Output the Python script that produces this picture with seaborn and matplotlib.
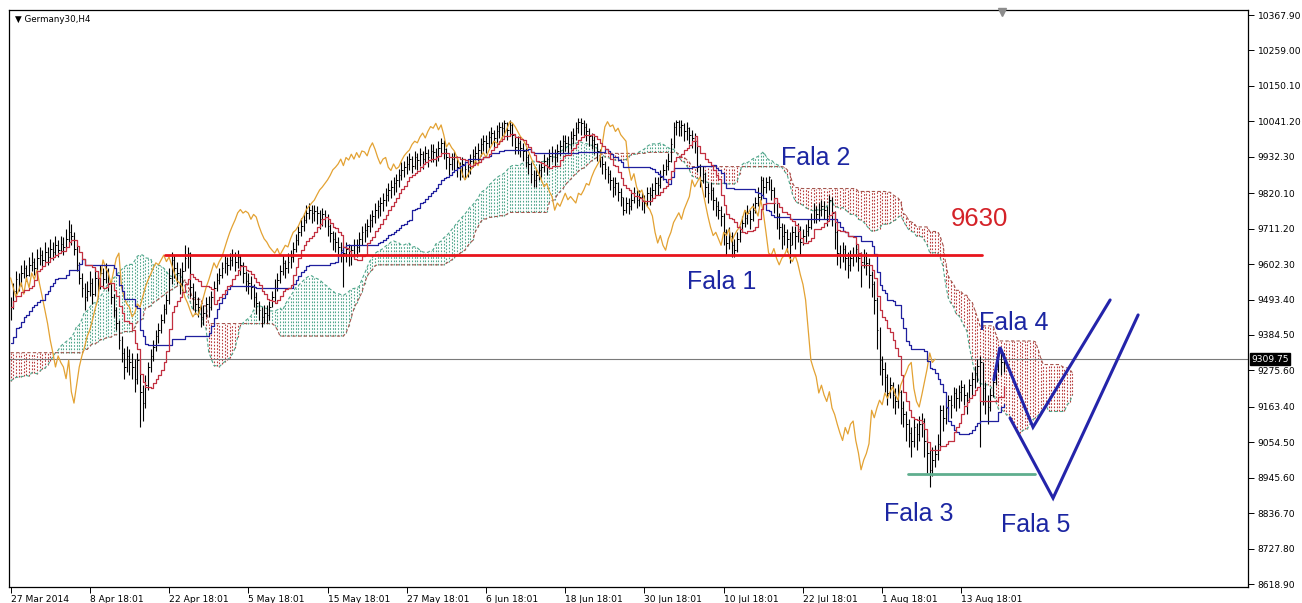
import numpy as np
import pandas as pd
import matplotlib
matplotlib.use("Agg")
import matplotlib.pyplot as plt
import matplotlib.transforms as mtransforms
import seaborn as sns

# ---------------- data ----------------
symbol_title = "Germany30,H4"

# bars before the visible window (needed by the Ichimoku cloud), 52 H4 bars
pre_high = [9550, 9560, 9545, 9555, 9540, 9530, 9520, 9500, 9470, 9440,
            9410, 9380, 9350, 9320, 9290, 9260, 9230, 9210, 9190, 9170,
            9160, 9150, 9150, 9160, 9170, 9180, 9210, 9240, 9260, 9280,
            9290, 9300, 9320, 9330, 9340, 9360, 9370, 9380, 9390, 9380,
            9400, 9420, 9440, 9460, 9470, 9490, 9500, 9510, 9500, 9510,
            9520, 9500]
pre_low = [9490, 9500, 9490, 9495, 9480, 9470, 9455, 9440, 9410, 9380,
           9350, 9320, 9290, 9260, 9230, 9200, 9170, 9150, 9130, 9110,
           9100, 9100, 9105, 9110, 9120, 9130, 9194, 9200, 9210, 9230,
           9240, 9250, 9265, 9275, 9290, 9300, 9310, 9320, 9330, 9330,
           9350, 9370, 9390, 9410, 9420, 9440, 9450, 9460, 9440, 9450,
           9460, 9440]

highs = [
    9500, 9545, 9580, 9575, 9600, 9615, 9600, 9625, 9640, 9620,
    9650, 9655, 9645, 9670, 9655, 9680, 9670, 9690, 9675, 9690,
    9685, 9710, 9738, 9725, 9700, 9660, 9610, 9575, 9545, 9550,
    9580, 9560, 9590, 9570, 9600, 9590, 9606, 9590, 9550, 9510,
    9470, 9430, 9380, 9345, 9350, 9340, 9330, 9310, 9330, 9310,
    9230, 9260, 9300, 9340, 9370, 9400, 9420, 9450, 9480, 9510,
    9590, 9640, 9630, 9610, 9590, 9610, 9661, 9655, 9640, 9545,
    9520, 9500, 9480, 9475, 9500, 9505, 9520, 9550, 9575, 9590,
    9610, 9630, 9625, 9635, 9650, 9640, 9645, 9630, 9610, 9580,
    9575, 9565, 9540, 9515, 9490, 9470, 9475, 9475, 9490, 9520,
    9555, 9575, 9600, 9630, 9615, 9635, 9645, 9670, 9695, 9720,
    9745, 9760, 9785, 9790, 9785, 9785, 9780, 9770, 9775, 9770,
    9755, 9725, 9705, 9700, 9685, 9670, 9660, 9670, 9665, 9660,
    9680, 9680, 9700, 9720, 9730, 9740, 9755, 9770, 9790, 9800,
    9810, 9820, 9835, 9850, 9860, 9870, 9880, 9895, 9915, 9920,
    9935, 9945, 9935, 9950, 9945, 9960, 9950, 9965, 9955, 9970,
    9970, 9960, 9980, 9990, 9985, 9960, 9935, 9945, 9950, 9935,
    9915, 9930, 9920, 9925, 9940, 9955, 9965, 9975, 9990, 10000,
    10000, 10012, 10025, 10015, 10030, 10040, 10039, 10045, 10040, 10045,
    10035, 10000, 9995, 9985, 9975, 9960, 9940, 9915, 9890, 9895,
    9910, 9920, 9940, 9930, 9955, 9965, 9955, 9970, 9985, 10000,
    10000, 9995, 10010, 10020, 10040, 10051, 10050, 10045, 10035, 10020,
    10005, 9995, 9975, 9955, 9935, 9920, 9905, 9890, 9870, 9870,
    9855, 9835, 9810, 9810, 9805, 9820, 9840, 9830, 9830, 9825,
    9815, 9840, 9840, 9850, 9870, 9870, 9890, 9910, 9925, 9945,
    9990, 10040, 10045, 10045, 10045, 10035, 10040, 10025, 10015, 10005,
    9985, 9910, 9905, 9885, 9850, 9855, 9840, 9810, 9795, 9780,
    9760, 9710, 9716, 9700, 9680, 9700, 9720, 9750, 9770, 9785,
    9770, 9790, 9810, 9840, 9873, 9870, 9870, 9873, 9865, 9840,
    9800, 9760, 9730, 9725, 9710, 9700, 9720, 9720, 9730, 9720,
    9710, 9725, 9740, 9760, 9790, 9780, 9790, 9800, 9795, 9780,
    9815, 9810, 9765, 9710, 9660, 9670, 9660, 9640, 9645, 9655,
    9670, 9660, 9640, 9650, 9640, 9620, 9580, 9550, 9500, 9410,
    9320, 9300, 9265, 9255, 9240, 9220, 9235, 9215, 9180, 9150,
    9125, 9100, 9130, 9115, 9135, 9145, 9130, 9070, 9030, 9040,
    9045, 9080, 9170, 9170, 9180, 9200, 9200, 9225, 9220, 9230,
    9245, 9235, 9210, 9250, 9270, 9290, 9310, 9320, 9300, 9240,
    9200, 9220, 9265, 9300, 9345, 9340, 9330]

lows = [
    9430, 9465, 9510, 9520, 9535, 9560, 9550, 9565, 9580, 9570,
    9585, 9600, 9595, 9610, 9600, 9620, 9615, 9630, 9625, 9640,
    9630, 9650, 9670, 9660, 9630, 9580, 9540, 9500, 9460, 9490,
    9505, 9480, 9505, 9500, 9525, 9530, 9545, 9520, 9480, 9440,
    9400, 9340, 9300, 9250, 9270, 9260, 9250, 9210, 9235, 9101,
    9120, 9160, 9215, 9270, 9305, 9335, 9360, 9390, 9420, 9450,
    9480, 9540, 9560, 9540, 9510, 9520, 9580, 9590, 9500, 9465,
    9450, 9440, 9410, 9415, 9440, 9440, 9460, 9490, 9520, 9540,
    9560, 9575, 9570, 9585, 9595, 9580, 9590, 9570, 9545, 9520,
    9510, 9495, 9470, 9450, 9430, 9410, 9420, 9420, 9430, 9470,
    9490, 9520, 9545, 9570, 9560, 9575, 9590, 9610, 9640, 9660,
    9690, 9705, 9730, 9740, 9730, 9735, 9725, 9710, 9720, 9715,
    9690, 9670, 9645, 9640, 9620, 9610, 9532, 9610, 9595, 9600,
    9620, 9625, 9640, 9660, 9670, 9685, 9700, 9715, 9730, 9745,
    9750, 9765, 9780, 9795, 9805, 9815, 9825, 9840, 9860, 9870,
    9880, 9890, 9882, 9895, 9890, 9905, 9895, 9910, 9900, 9915,
    9915, 9905, 9920, 9940, 9925, 9895, 9875, 9890, 9890, 9870,
    9860, 9870, 9865, 9870, 9880, 9900, 9910, 9920, 9935, 9950,
    9945, 9960, 9970, 9960, 9975, 9990, 9990, 10000, 9985, 9995,
    9965, 9940, 9940, 9930, 9920, 9900, 9880, 9850, 9840, 9840,
    9860, 9870, 9885, 9875, 9895, 9915, 9900, 9915, 9935, 9945,
    9950, 9945, 9955, 9970, 9985, 10005, 10000, 9995, 9980, 9965,
    9955, 9940, 9920, 9900, 9880, 9865, 9850, 9830, 9810, 9815,
    9795, 9780, 9753, 9760, 9755, 9770, 9790, 9775, 9780, 9770,
    9760, 9780, 9785, 9800, 9815, 9815, 9835, 9860, 9875, 9890,
    9915, 9960, 10000, 9995, 9995, 9980, 9985, 9970, 9960, 9945,
    9885, 9840, 9850, 9810, 9790, 9800, 9770, 9750, 9740, 9720,
    9660, 9630, 9650, 9625, 9624, 9640, 9670, 9700, 9715, 9725,
    9710, 9735, 9760, 9780, 9800, 9810, 9820, 9830, 9800, 9760,
    9710, 9680, 9650, 9660, 9640, 9606, 9660, 9650, 9670, 9630,
    9660, 9670, 9690, 9710, 9730, 9730, 9735, 9750, 9740, 9720,
    9740, 9720, 9650, 9600, 9590, 9610, 9585, 9560, 9580, 9595,
    9610, 9580, 9532, 9590, 9570, 9530, 9500, 9450, 9340, 9260,
    9230, 9210, 9170, 9190, 9160, 9140, 9160, 9110, 9100, 9060,
    9040, 9010, 9040, 9030, 9060, 9070, 9010, 8960, 8917, 8950,
    8980, 9000, 9040, 9090, 9110, 9140, 9130, 9160, 9150, 9160,
    9180, 9170, 9140, 9180, 9200, 9220, 9240, 9040, 9170, 9140,
    9110, 9150, 9195, 9230, 9270, 9260, 9270]

closes = [
    9470, 9520, 9555, 9540, 9575, 9590, 9570, 9600, 9610, 9590,
    9620, 9630, 9615, 9640, 9625, 9650, 9640, 9660, 9645, 9665,
    9655, 9680, 9700, 9690, 9650, 9600, 9560, 9530, 9501, 9520,
    9545, 9510, 9560, 9530, 9575, 9555, 9584, 9540, 9501, 9460,
    9420, 9369, 9330, 9286, 9320, 9300, 9286, 9250, 9307, 9210,
    9175, 9230, 9286, 9320, 9347, 9380, 9400, 9430, 9465, 9492,
    9560, 9615, 9590, 9575, 9540, 9580, 9620, 9636, 9532, 9500,
    9480, 9470, 9440, 9452, 9480, 9470, 9501, 9530, 9553, 9570,
    9590, 9606, 9600, 9615, 9630, 9610, 9624, 9600, 9575, 9550,
    9545, 9532, 9500, 9483, 9460, 9440, 9452, 9445, 9470, 9500,
    9530, 9553, 9580, 9606, 9590, 9610, 9624, 9650, 9676, 9700,
    9720, 9738, 9760, 9770, 9759, 9765, 9759, 9740, 9755, 9747,
    9720, 9698, 9680, 9670, 9655, 9645, 9636, 9650, 9630, 9645,
    9660, 9655, 9680, 9700, 9707, 9720, 9738, 9750, 9770, 9780,
    9790, 9799, 9815, 9830, 9839, 9850, 9861, 9875, 9892, 9900,
    9910, 9925, 9905, 9930, 9922, 9940, 9925, 9945, 9930, 9950,
    9947, 9935, 9960, 9975, 9955, 9930, 9910, 9925, 9930, 9900,
    9890, 9910, 9895, 9901, 9920, 9935, 9945, 9953, 9970, 9980,
    9975, 9993, 10005, 9990, 10010, 10025, 10020, 10035, 10015, 10030,
    10000, 9962, 9975, 9960, 9950, 9930, 9910, 9880, 9861, 9875,
    9890, 9900, 9920, 9905, 9935, 9945, 9930, 9950, 9965, 9980,
    9975, 9970, 9990, 10000, 10020, 10040, 10036, 10025, 10010, 9995,
    9985, 9970, 9950, 9930, 9910, 9895, 9880, 9860, 9840, 9850,
    9825, 9810, 9768, 9790, 9780, 9800, 9820, 9800, 9810, 9800,
    9790, 9820, 9815, 9830, 9850, 9845, 9870, 9890, 9905, 9920,
    9970, 10024, 10040, 10025, 10030, 10010, 10020, 10000, 9990, 9980,
    9900, 9860, 9880, 9840, 9820, 9830, 9800, 9780, 9770, 9750,
    9700, 9667, 9690, 9660, 9645, 9680, 9700, 9730, 9745, 9760,
    9740, 9770, 9790, 9810, 9861, 9840, 9855, 9870, 9830, 9790,
    9750, 9716, 9690, 9700, 9680, 9660, 9700, 9690, 9710, 9670,
    9690, 9705, 9716, 9740, 9768, 9755, 9770, 9780, 9770, 9750,
    9800, 9760, 9700, 9636, 9630, 9650, 9620, 9600, 9620, 9630,
    9650, 9620, 9610, 9630, 9606, 9570, 9540, 9492, 9400, 9307,
    9280, 9256, 9206, 9230, 9200, 9180, 9210, 9160, 9140, 9110,
    9083, 9060, 9100, 9080, 9110, 9120, 9060, 9022, 8970, 9000,
    9020, 9050, 9153, 9130, 9160, 9184, 9170, 9206, 9190, 9210,
    9225, 9200, 9184, 9230, 9250, 9268, 9290, 9300, 9220, 9180,
    9163, 9200, 9240, 9280, 9329, 9300, 9310]

date_labels = ["27 Mar 2014", "8 Apr 18:01", "22 Apr 18:01", "5 May 18:01",
               "15 May 18:01", "27 May 18:01", "6 Jun 18:01", "18 Jun 18:01",
               "30 Jun 18:01", "10 Jul 18:01", "22 Jul 18:01", "1 Aug 18:01",
               "13 Aug 18:01"]
date_label_bars = [0, 30, 60, 90, 120, 150, 180, 210, 240, 270, 300, 330, 360]

price_ticks = [10367.90, 10259.00, 10150.10, 10041.20, 9932.30, 9820.10,
               9711.20, 9602.30, 9493.40, 9384.50, 9275.60, 9163.40,
               9054.50, 8945.60, 8836.70, 8727.80, 8618.90]
current_price = 9309.75

resistance_level = 9630
resistance_bars = [58.5, 367.8]
support_level = 8957
support_bars = [339.8, 387.9]

wave_a_bars = [372.3, 374.6, 387.1, 416.3]
wave_a_prices = [9246, 9347, 9101, 9492]
wave_b_bars = [378.4, 394.7, 426.9]
wave_b_prices = [9129, 8883, 9446]

wave_labels = ["Fala 1", "Fala 2", "Fala 3", "Fala 4", "Fala 5"]
wave_label_bars = [269.4, 304.9, 343.9, 379.9, 388.2]
wave_label_prices = [9547, 9928, 8834, 9421, 8800]
level_label = "9630"
level_label_bar = 367.0
level_label_price = 9741

# ---------------- indicator computation ----------------
n_pre = len(pre_high)
H = pd.Series(pre_high + highs, dtype=float)
L = pd.Series(pre_low + lows, dtype=float)
full_bars = np.arange(len(H)) - n_pre

tenkan = (H.rolling(9, min_periods=1).max() + L.rolling(9, min_periods=1).min()) / 2
kijun = (H.rolling(26, min_periods=1).max() + L.rolling(26, min_periods=1).min()) / 2
span_a = (tenkan + kijun) / 2
span_b = (H.rolling(52, min_periods=1).max() + L.rolling(52, min_periods=1).min()) / 2

n = len(closes)
bars = np.arange(n)
vis = full_bars >= 0
df = pd.DataFrame({"bar": bars, "high": highs, "low": lows, "close": closes,
                   "tenkan": tenkan[vis].values, "kijun": kijun[vis].values})

cloud_bars = np.arange(0, n + 26)
src = cloud_bars - 26 + n_pre
cloud = pd.DataFrame({"bar": cloud_bars,
                      "a": span_a.values[src], "b": span_b.values[src]})
chikou = pd.DataFrame({"bar": bars[26:] - 26, "value": closes[26:]})

# ---------------- figure ----------------
sns.set_theme(style="white")
plt.rcParams["font.family"] = ["DejaVu Sans"]

W, Hpx = 1302, 603
fig = plt.figure(figsize=(W / 100, Hpx / 100), dpi=100)
left_px, right_px, top_px, bot_px = 9, 1248, 10, 587
ax = fig.add_axes([left_px / W, (Hpx - bot_px) / Hpx,
                   (right_px - left_px) / W, (bot_px - top_px) / Hpx])
ax.set_facecolor("white")

green = "#4fa68b"
red_c = "#b73b3b"

up = cloud["a"] >= cloud["b"]
ax.vlines(cloud["bar"][up], cloud["b"][up], cloud["a"][up], colors=green,
          linestyles=(0, (1.5, 1.5)), linewidth=0.8, zorder=1)
ax.vlines(cloud["bar"][~up], cloud["a"][~up], cloud["b"][~up], colors=red_c,
          linestyles=(0, (1.5, 1.5)), linewidth=0.8, zorder=1)
ax.plot(cloud["bar"], cloud["a"], color=green, ls=(0, (3, 2)), lw=0.8, zorder=1)
ax.plot(cloud["bar"], cloud["b"], color="#a5564e", ls=(0, (3, 2)), lw=0.8, zorder=1)

# current price line
ax.axhline(current_price, color="#7a7a7a", lw=0.8, zorder=1.5)

# price bars
ax.vlines(df["bar"], df["low"], df["high"], colors="black", linewidth=0.8, zorder=2)
ax.hlines(df["close"], df["bar"], df["bar"] + 0.6, colors="black", linewidth=0.7, zorder=2)

# Ichimoku lines
sns.lineplot(data=chikou, x="bar", y="value", ax=ax, color="#e3a233", linewidth=0.9,
             errorbar=None, legend=False, zorder=3)
sns.lineplot(data=df, x="bar", y="kijun", ax=ax, color="#1f1f9e", linewidth=0.9,
             errorbar=None, legend=False, zorder=3, drawstyle="steps-post")
sns.lineplot(data=df, x="bar", y="tenkan", ax=ax, color="#c23040", linewidth=0.9,
             errorbar=None, legend=False, zorder=3, drawstyle="steps-post")

# annotations
ax.plot(resistance_bars, [resistance_level] * 2, color="#e8141c", lw=2.0, zorder=4)
ax.plot(support_bars, [support_level] * 2, color="#5fae8e", lw=2.0, zorder=4)
ax.plot(wave_a_bars, wave_a_prices, color="#2424aa", lw=2.2, zorder=5,
        solid_joinstyle="miter")
ax.plot(wave_b_bars, wave_b_prices, color="#2424aa", lw=2.2, zorder=5,
        solid_joinstyle="miter")

label_font = ["Liberation Sans", "DejaVu Sans"]
for t, bx, py in zip(wave_labels, wave_label_bars, wave_label_prices):
    ax.text(bx, py, t, color="#1c26a2", fontsize=18, family=label_font,
            ha="center", va="center", zorder=6)
ax.text(level_label_bar, level_label_price, level_label, color="#d42228",
        fontsize=18.5, family=label_font, ha="center", va="center", zorder=6)

# axes ranges
ax.set_xlim(-0.6, 468.5)
ax.set_ylim(8609.7, 10383.3)

# title
ax.text(6 / 1239, 1 - 9 / 577, "\u25bc " + symbol_title, transform=ax.transAxes,
        fontsize=6.3, color="black", ha="left", va="center")
# chart shift marker
trans_top = mtransforms.blended_transform_factory(ax.transData, ax.transAxes)
ax.plot([n - 1.5], [0.996], marker="v", color="#8c8c8c", markersize=6,
        transform=trans_top, clip_on=False, zorder=7)

# ticks
ax.set_xticks(date_label_bars)
ax.set_xticklabels(date_labels)
for lab in ax.get_xticklabels():
    lab.set_horizontalalignment("left")
ax.tick_params(axis="x", direction="out", length=4, width=0.7, pad=2,
               labelsize=6.6, colors="black", bottom=True)

ax.yaxis.tick_right()
ax.set_yticks(price_ticks)
ax.set_yticklabels([f"{v:.2f}" for v in price_ticks])
ax.tick_params(axis="y", direction="out", length=4, width=0.7, pad=3,
               labelsize=6.6, colors="black", right=True, left=False)
ax.set_xlabel("")
ax.set_ylabel("")
for s in ax.spines.values():
    s.set_visible(True)
    s.set_color("black")
    s.set_linewidth(0.9)

trans_right = mtransforms.blended_transform_factory(ax.transAxes, ax.transData)
ax.text(1.0028, current_price, f"{current_price:.2f}", transform=trans_right,
        fontsize=6.6, color="white", ha="left", va="center", zorder=8,
        bbox=dict(boxstyle="square,pad=0.15", facecolor="black", edgecolor="black"))

fig.savefig("out.png", dpi=100, facecolor="white")
